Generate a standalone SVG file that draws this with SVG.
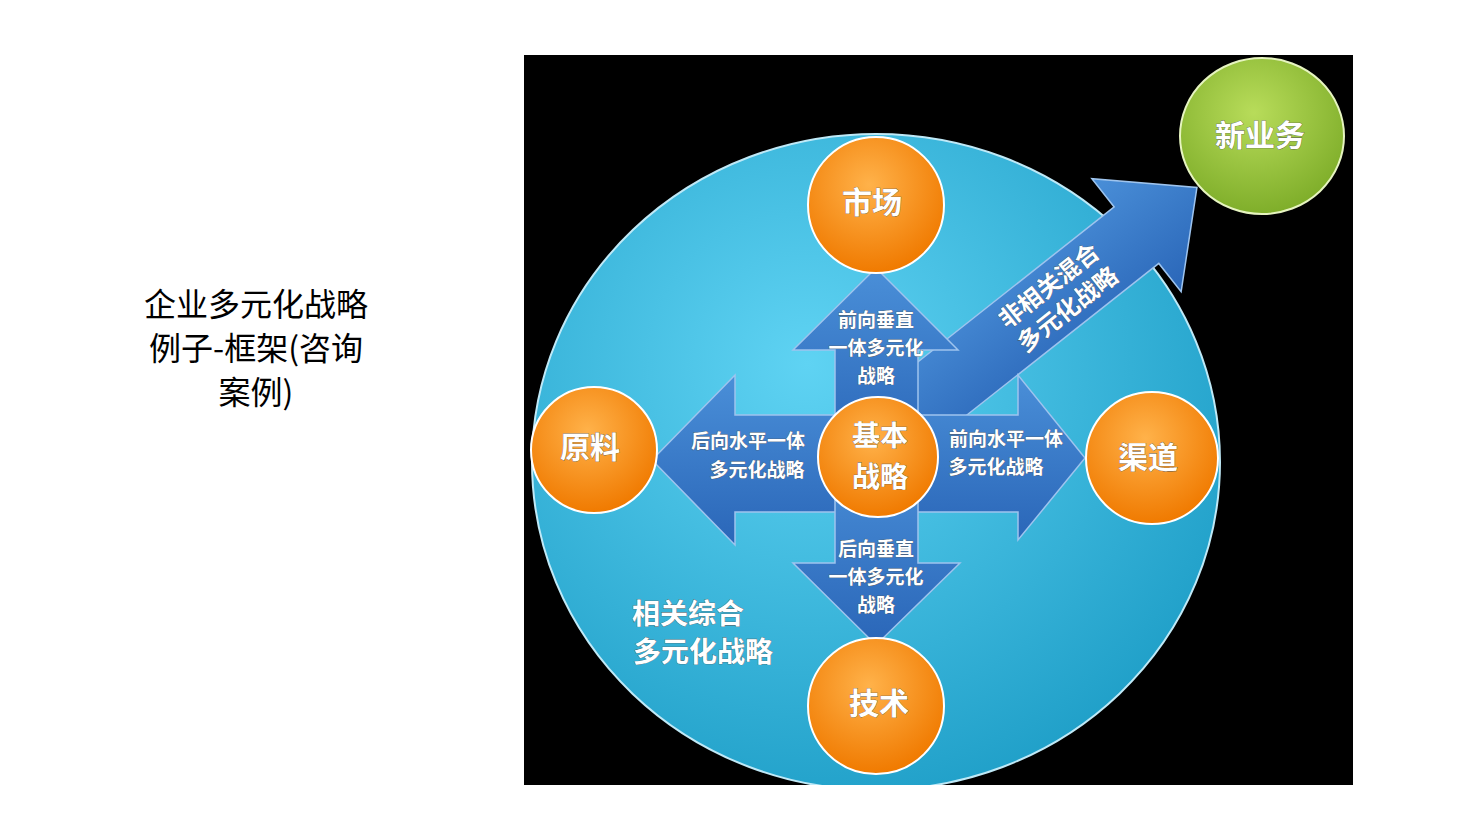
<svg xmlns="http://www.w3.org/2000/svg" width="1472" height="831" viewBox="0 0 1472 831">
<defs>
<radialGradient id="cy" cx="0.4" cy="0.35" r="0.7"><stop offset="0" stop-color="#5fd3f3"/><stop offset="1" stop-color="#1f9fc8"/></radialGradient>
<radialGradient id="or" cx="0.45" cy="0.35" r="0.65"><stop offset="0" stop-color="#ffb24a"/><stop offset="1" stop-color="#f07a00"/></radialGradient>
<radialGradient id="gr" cx="0.45" cy="0.35" r="0.65"><stop offset="0" stop-color="#b8dc5a"/><stop offset="1" stop-color="#7fae2a"/></radialGradient>
<linearGradient id="bl" x1="0" y1="0" x2="0" y2="1"><stop offset="0" stop-color="#4a8fd8"/><stop offset="1" stop-color="#2a66b8"/></linearGradient>
<clipPath id="bk"><rect x="524" y="55" width="829" height="730"/></clipPath>
</defs>
<style>
.t{font-family:"Noto Sans CJK SC",sans-serif;fill:#fff;font-weight:bold;text-anchor:middle;stroke:#555;stroke-width:0.6;paint-order:stroke}
.a{fill:url(#bl);stroke:#9ec4ee;stroke-width:1.5}
.o{fill:url(#or);stroke:#fff;stroke-width:2}
</style>
<rect width="1472" height="831" fill="#fff"/>
<g id="title" font-family="Noto Sans CJK SC,sans-serif" font-size="32" text-anchor="middle" fill="#000">
<text x="256" y="316">企业多元化战略</text><text x="256" y="360">例子-框架(咨询</text><text x="256" y="404">案例)</text>
</g>
<rect x="524" y="55" width="829" height="730" fill="#000"/>
<g clip-path="url(#bk)">
<ellipse id="big" cx="876" cy="462" rx="344" ry="328" fill="url(#cy)" stroke="#bfe9f7" stroke-width="2"/>
</g>
<g id="connectors">
<g transform="translate(905,418) rotate(-38.3)">
<polygon class="a" points="0,-36 295,-36 295,-72 372,0 295,72 295,36 0,36"/>
<text class="t" x="195" y="-6" font-size="24">非相关混合</text>
<text class="t" x="195" y="24" font-size="24">多元化战略</text>
</g>
<polygon class="a" points="835,456 835,350 793,350 876,268 958,350 918,350 918,456"/>
<polygon class="a" points="876,415 735,415 735,375 652,460 735,545 735,512 876,512"/>
<polygon class="a" points="876,415 1018,415 1018,375 1085,458 1018,540 1018,512 876,512"/>
<polygon class="a" points="835,456 835,563 793,563 876,645 960,563 918,563 918,456"/>
</g>
<g id="n-market"><circle class="o" cx="876" cy="205" r="68"/><text class="t" x="872" y="213" font-size="30">市场</text></g>
<g id="n-raw"><circle class="o" cx="594" cy="450" r="63"/><text class="t" x="590" y="458" font-size="30">原料</text></g>
<g id="n-channel"><circle class="o" cx="1152" cy="458" r="66"/><text class="t" x="1148" y="468" font-size="30">渠道</text></g>
<g id="n-tech"><circle class="o" cx="876" cy="706" r="68"/><text class="t" x="879" y="714" font-size="30">技术</text></g>
<g id="n-core"><circle class="o" cx="878" cy="457" r="60"/><text class="t" x="880" y="446" font-size="28">基本</text><text class="t" x="880" y="487" font-size="28">战略</text></g>
<g id="n-new"><ellipse cx="1262" cy="136" rx="82" ry="78" fill="url(#gr)" stroke="#e6f4c0" stroke-width="2"/><text class="t" x="1260" y="146" font-size="30">新业务</text></g>
<g id="labels">
<text class="t" x="876" y="327" font-size="19">前向垂直</text>
<text class="t" x="876" y="355" font-size="19">一体多元化</text>
<text class="t" x="876" y="383" font-size="19">战略</text>
<text class="t" x="748" y="448" font-size="19">后向水平一体</text>
<text class="t" x="757" y="477" font-size="19">多元化战略</text>
<text class="t" x="1006" y="446" font-size="19">前向水平一体</text>
<text class="t" x="996" y="474" font-size="19">多元化战略</text>
<text class="t" x="876" y="556" font-size="19">后向垂直</text>
<text class="t" x="876" y="584" font-size="19">一体多元化</text>
<text class="t" x="876" y="612" font-size="19">战略</text>
<text class="t" x="688" y="624" font-size="28">相关综合</text>
<text class="t" x="703" y="662" font-size="28">多元化战略</text>
</g>
</svg>
